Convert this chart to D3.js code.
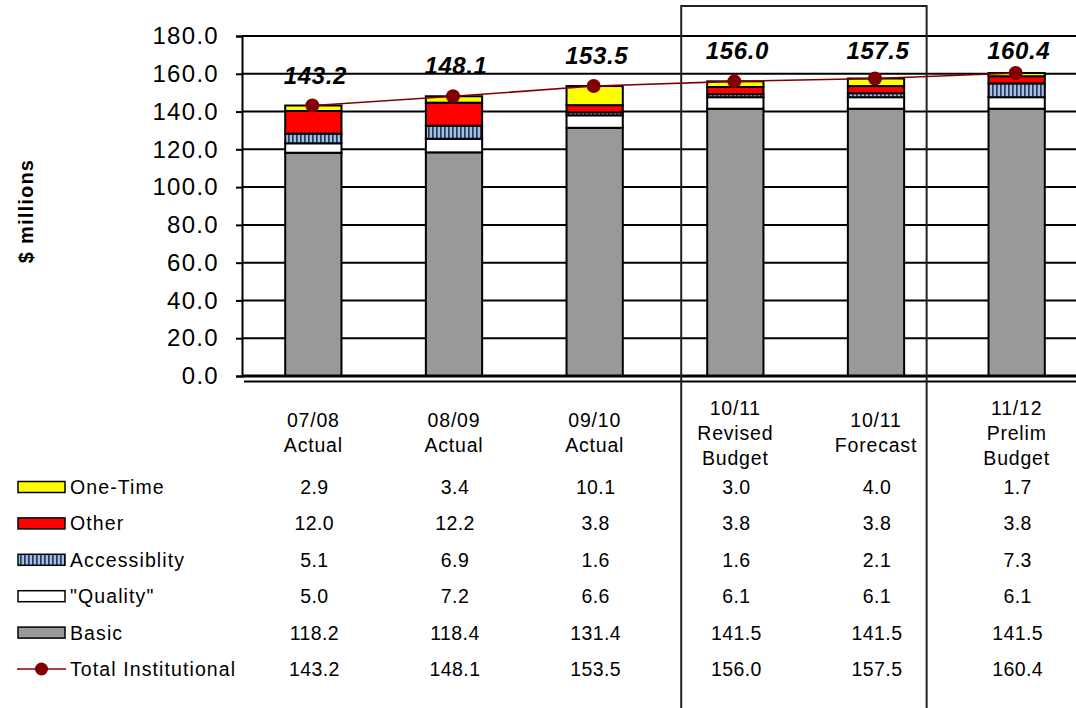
<!DOCTYPE html>
<html>
<head>
<meta charset="utf-8">
<script src="https://cdnjs.cloudflare.com/ajax/libs/d3/7.8.5/d3.min.js"></script>
<style>
  body { margin: 0; background: #fff; }
  text { font-family: "Liberation Sans", Arial, sans-serif; fill: #000; }
</style>
</head>
<body>
<div id="chart"></div>
<script>
// Chart data
var categories = ["07/08\nActual", "08/09\nActual", "09/10\nActual", "10/11\nRevised\nBudget", "10/11\nForecast", "11/12\nPrelim\nBudget"];
var basic = [118.2, 118.4, 131.4, 141.5, 141.5, 141.5];
var quality = [5.0, 7.2, 6.6, 6.1, 6.1, 6.1];
var accessibility = [5.1, 6.9, 1.6, 1.6, 2.1, 7.3];
var other = [12.0, 12.2, 3.8, 3.8, 3.8, 3.8];
var oneTime = [2.9, 3.4, 10.1, 3.0, 4.0, 1.7];
var totals = [143.2, 148.1, 153.5, 156.0, 157.5, 160.4];
var yTicks = [0, 20, 40, 60, 80, 100, 120, 140, 160, 180];
var stackKeys = ["basic", "quality", "accessibility", "other", "oneTime"];
var tableLabels = ["One-Time", "Other", "Accessiblity", "\"Quality\"", "Basic", "Total Institutional"];

var svgWidth = 1076;
var svgHeight = 708;

var svg = d3.select("#chart")
  .append("svg")
  .attr("width", svgWidth)
  .attr("height", svgHeight);

// stripes for the accessibility segments
var pattern = svg.append("defs").append("pattern")
  .attr("id", "stripes")
  .attr("patternUnits", "userSpaceOnUse")
  .attr("width", 4)
  .attr("height", 4);
pattern.append("rect").attr("width", 4).attr("height", 4).attr("fill", "#7393c0");
pattern.append("rect").attr("x", 0).attr("width", 1.5).attr("height", 4).attr("fill", "#1f3a66");
pattern.append("rect").attr("x", 2.5).attr("width", 1).attr("height", 4).attr("fill", "#dfe8f5");

var fills = {
  basic: "#999999",
  quality: "#ffffff",
  accessibility: "url(#stripes)",
  other: "#ff0000",
  oneTime: "#ffff00"
};

// scales
var xScale = d3.scaleBand()
  .domain(categories)
  .range([243, 1087])
  .paddingInner(0.6)
  .paddingOuter(0.3);

var yScale = d3.scaleLinear()
  .domain([0, 180])
  .range([376, 36]);

// rows for the stack
var rows = categories.map(function(c, i) {
  return { cat: c, basic: basic[i], quality: quality[i], accessibility: accessibility[i], other: other[i], oneTime: oneTime[i] };
});
var stacked = d3.stack().keys(stackKeys)(rows);

// horizontal gridlines
svg.append("g").selectAll("line")
  .data(yTicks.filter(function(t) { return t > 0; }))
  .enter()
  .append("line")
  .attr("x1", 242)
  .attr("x2", svgWidth)
  .attr("y1", d => yScale(d))
  .attr("y2", d => yScale(d))
  .attr("stroke", "#000")
  .attr("stroke-width", 2);

// left axis
var leftAxis = d3.axisLeft(yScale)
  .tickValues(yTicks)
  .tickSize(6)
  .tickFormat(d3.format(".1f"));

var axisG = svg.append("g")
  .attr("transform", "translate(242,0)")
  .call(leftAxis);
axisG.select(".domain").attr("stroke", "#000").attr("stroke-width", 2);
axisG.selectAll(".tick line").attr("stroke", "#000").attr("stroke-width", 2);
axisG.selectAll(".tick text")
  .attr("x", -23)
  .style("font-size", "24px")
  .style("letter-spacing", "1.3px")
  .style("font-family", "'Liberation Sans', Arial, sans-serif")
  .attr("fill", "#000");

// y axis title
svg.append("text")
  .attr("transform", "translate(33,211) rotate(-90)")
  .attr("text-anchor", "middle")
  .style("font-size", "20px")
  .style("font-weight", "bold")
  .style("letter-spacing", "1.2px")
  .text("$ millions");

// stacked bars
svg.append("g").selectAll("g")
  .data(stacked)
  .enter()
  .append("g")
  .attr("fill", d => fills[d.key])
  .selectAll("rect")
  .data(d => d)
  .enter()
  .append("rect")
  .attr("x", d => xScale(d.data.cat))
  .attr("y", d => yScale(d[1]))
  .attr("width", xScale.bandwidth())
  .attr("height", d => yScale(d[0]) - yScale(d[1]))
  .attr("stroke", "#000")
  .attr("stroke-width", 2);

// zero line and the category axis under it
svg.append("line")
  .attr("x1", 242).attr("x2", svgWidth)
  .attr("y1", yScale(0)).attr("y2", yScale(0))
  .attr("stroke", "#000").attr("stroke-width", 3);
svg.append("line")
  .attr("x1", 244).attr("x2", svgWidth)
  .attr("y1", yScale(0) + 5.5).attr("y2", yScale(0) + 5.5)
  .attr("stroke", "#000").attr("stroke-width", 2);

// box round the 10/11 columns
var boxLeft = xScale(categories[3]) - 26;
var boxRight = xScale(categories[4]) + xScale.bandwidth() + 22.5;
svg.append("path")
  .attr("d", "M" + boxLeft + "," + svgHeight + "V6H" + boxRight + "V" + svgHeight)
  .attr("fill", "none")
  .attr("stroke", "#222")
  .attr("stroke-width", 2);

// total line with markers
var cx = d => xScale(d) + xScale.bandwidth() / 2;
var line = d3.line()
  .x((d, i) => cx(categories[i]))
  .y(d => yScale(d));

svg.append("path")
  .datum(totals)
  .attr("d", line)
  .attr("fill", "none")
  .attr("stroke", "#800000")
  .attr("stroke-width", 1.6);

svg.append("g").selectAll("circle")
  .data(totals)
  .enter()
  .append("circle")
  .attr("cx", (d, i) => cx(categories[i]) - 1)
  .attr("cy", d => yScale(d))
  .attr("r", 7)
  .attr("fill", "#800000");

// total labels above
svg.append("g").selectAll("text")
  .data(totals)
  .enter()
  .append("text")
  .attr("x", (d, i) => cx(categories[i]) + 2)
  .attr("y", d => Math.max(yScale(d) - 22, 59))
  .attr("text-anchor", "middle")
  .style("font-size", "24px")
  .style("font-weight", "bold")
  .style("font-style", "italic")
  .style("letter-spacing", "0.6px")
  .text(d => d.toFixed(1));

// category labels
var catG = svg.append("g").selectAll("text")
  .data(categories)
  .enter()
  .append("text")
  .attr("text-anchor", "middle")
  .style("font-size", "19.5px")
  .style("letter-spacing", "0.8px");
catG.each(function(c) {
  var parts = c.split("\n");
  var t = d3.select(this);
  var first = 432.5 + 7 - (parts.length - 1) * 25 / 2;
  parts.forEach(function(p, j) {
    t.append("tspan")
      .attr("x", cx(c))
      .attr("y", first + j * 25)
      .text(p);
  });
});

// data table underneath
var tableValues = [oneTime, other, accessibility, quality, basic, totals];
var rowY = d3.scaleLinear().domain([0, 5]).range([487, 669]);

tableValues.forEach(function(vals, r) {
  var yy = rowY(r);
  var key = stackKeys[4 - r];

  // legend swatch
  if (r < 5) {
    svg.append("rect")
      .attr("x", 18).attr("y", yy - 5.5)
      .attr("width", 47).attr("height", 11)
      .attr("fill", fills[key])
      .attr("stroke", "#000")
      .attr("stroke-width", 1.5);
  } else {
    svg.append("line")
      .attr("x1", 17).attr("x2", 66)
      .attr("y1", yy).attr("y2", yy)
      .attr("stroke", "#800000").attr("stroke-width", 1.6);
    svg.append("circle")
      .attr("cx", 41.5).attr("cy", yy).attr("r", 6.5)
      .attr("fill", "#800000");
  }

  svg.append("text")
    .attr("x", 70)
    .attr("y", yy + 7)
    .style("font-size", "19.5px")
    .style("letter-spacing", "1.1px")
    .text(tableLabels[r]);

  svg.append("g").selectAll("text")
    .data(vals)
    .enter()
    .append("text")
    .attr("x", (d, i) => cx(categories[i]) + 1)
    .attr("y", yy + 7)
    .attr("text-anchor", "middle")
    .style("font-size", "19.5px")
    .style("letter-spacing", "0.4px")
    .text(d => d.toFixed(1));
});
</script>
</body>
</html>
